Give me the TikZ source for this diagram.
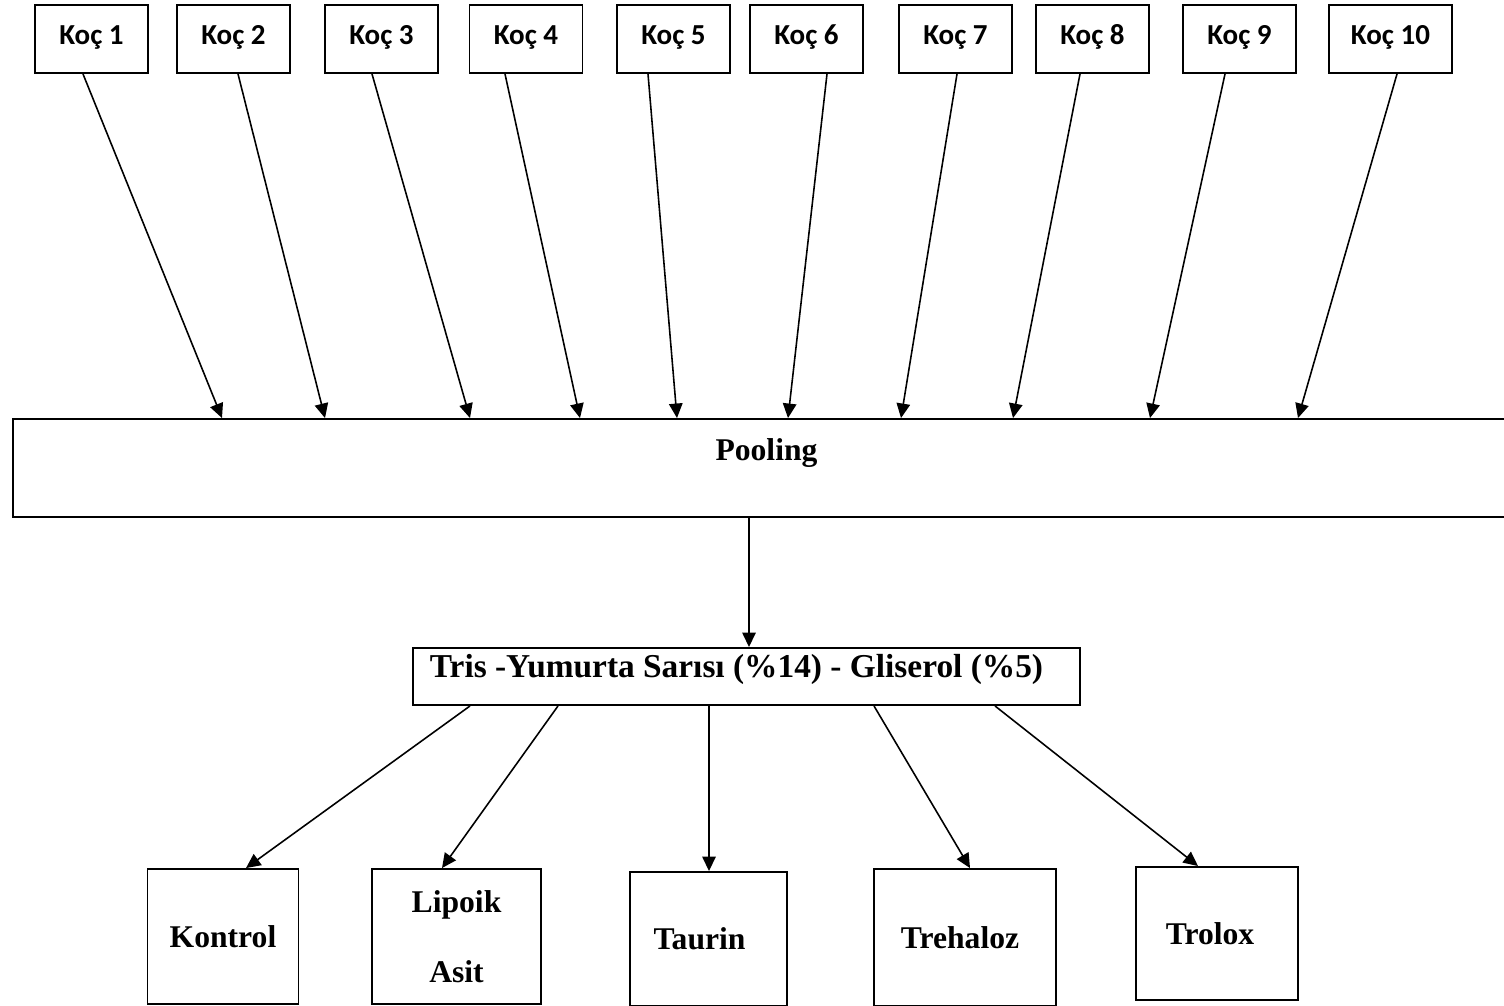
\documentclass[tikz,border=0pt]{standalone}
\usepackage{fontspec}
\setmainfont{Liberation Serif}
\newfontfamily\kocfont{Carlito}
\usepackage{tikz}
\usetikzlibrary{arrows.meta,positioning,calc}
\tikzset{
  koc/.style={draw, line width=1.1pt, minimum width=2.26cm, minimum height=1.36cm,
              inner sep=0pt, text height=11pt, text depth=5pt,
              font=\kocfont\bfseries\fontsize{16.5}{19}\selectfont},
  pool/.style={draw, line width=1.1pt, minimum width=30.14cm, inner sep=0pt,
               text height=0.82cm, text depth=1.14cm, font=\bfseries\fontsize{18}{21}\selectfont},
  mix/.style={draw, line width=1.1pt, minimum width=13.34cm, inner sep=0pt,
              text height=0.58cm, text depth=0.56cm, font=\bfseries\fontsize{19}{22}\selectfont},
  group/.style={draw, line width=1.1pt, inner sep=0pt, align=center,
                font=\bfseries\fontsize{18}{21}\selectfont},
  flow/.style={-{Triangle[length=2.9mm,width=2.7mm]}, line width=0.9pt}
}

\begin{document}
\begin{tikzpicture}[x=0.02cm,y=-0.02cm]
  \useasboundingbox (0,0) rectangle (1504,1006);

  % rams on top
  \foreach \i/\x in {1/91.5,2/233.5,3/381.5,4/526,5/673.5,6/806.5,7/955.5,8/1092.5,9/1239.5}
    \node[koc] (k\i) at (\x,39) {Koç \i};
  \node[koc, minimum width=2.46cm] (k10) at (1390.5,39) {Koç 10};

  % pooling and extender
  \node[pool] (pool) at (766.5,468) {Pooling};
  \node[mix] (tris) at (746.5,676.5) {Tris -Yumurta Sarısı (\%14) - Gliserol (\%5)\hspace*{0.4cm}};

  % groups
  \node[group, minimum width=3.02cm, minimum height=2.7cm] (kontrol) at (223,936.5) {Kontrol};
  \node[group, minimum width=3.38cm, minimum height=2.7cm] (lipoik) at (456.5,936.5) {Lipoik\\[19pt]Asit};
  \node[group, minimum width=3.14cm, minimum height=2.68cm] (taurin) at (708.5,939) {Taurin\hspace*{0.36cm}};
  \node[group, minimum width=3.64cm, minimum height=2.74cm] (trehaloz) at (965,937.5) {Trehaloz\hspace*{0.2cm}};
  \node[group, minimum width=3.24cm, minimum height=2.66cm] (trolox) at (1217,933.5) {Trolox\hspace*{0.28cm}};

  % rams -> pooling
  \foreach \i/\o/\e in {1/-8.5/222,2/4.5/325,3/-9.5/470,4/-21/580,5/-25.5/677,
                        6/20.5/788,7/1.5/901,8/-12.5/1013,9/-14.5/1150,10/6.5/1298} {
    \coordinate (e\i) at (\e,0);
    \draw[flow] ($(k\i.south)+(\o,0)$) -- (pool.north -| e\i);
  }

  \draw[flow] (pool.south -| 749,0) -- (tris.north -| 749,0);

  % extender -> groups
  \foreach \g/\s/\o in {kontrol/470/23,lipoik/558/-14.5,taurin/709/0.5,trehaloz/874/5,trolox/995/-19} {
    \coordinate (s\g) at (\s,0);
    \draw[flow] (tris.south -| s\g) -- ($(\g.north)+(\o,0)$);
  }
\end{tikzpicture}
\end{document}
